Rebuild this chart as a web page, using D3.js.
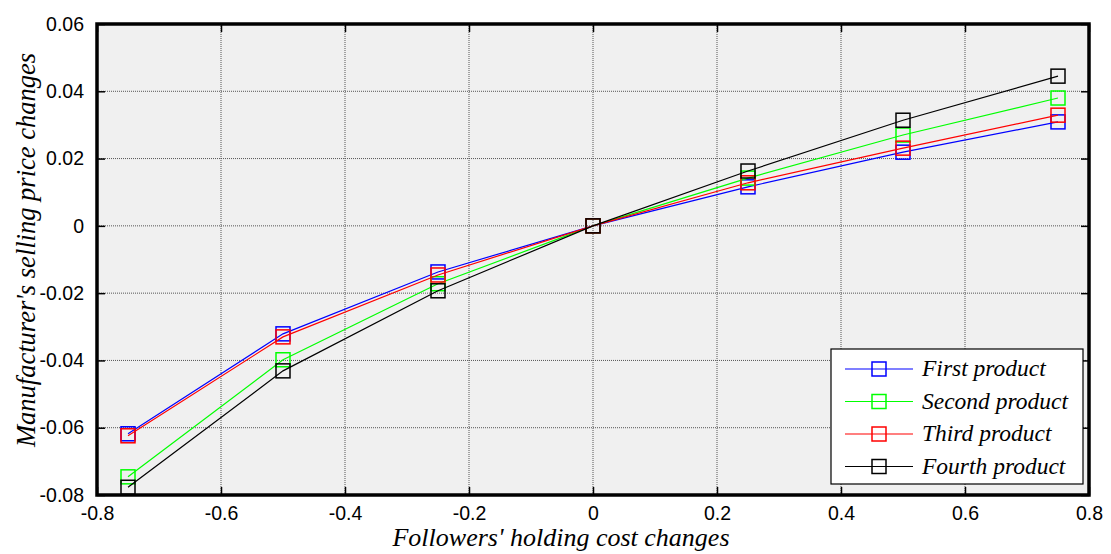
<!DOCTYPE html>
<html>
<head>
<meta charset="utf-8">
<script src="https://cdn.jsdelivr.net/npm/d3@7"></script>
<style>
  body { margin: 0; background: #fff; }
  svg { display: block; }
</style>
</head>
<body>
<svg width="1111" height="554"></svg>
<script>
// data
var xValues = [-0.75, -0.5, -0.25, 0, 0.25, 0.5, 0.75];
var firstProduct  = [-0.0618, -0.0321, -0.0137, 0, 0.0116, 0.0219, 0.0309];
var secondProduct = [-0.0746, -0.0398, -0.0172, 0, 0.0142, 0.0270, 0.0380];
var thirdProduct  = [-0.0624, -0.0330, -0.0146, 0, 0.0128, 0.0231, 0.0329];
var fourthProduct = [-0.0777, -0.0431, -0.0193, 0, 0.0163, 0.0314, 0.0445];
var seriesNames = ["First product", "Second product", "Third product", "Fourth product"];
var seriesColors = ["#0000ff", "#00ff00", "#ff0000", "#000000"];
var xTicks = [-0.8, -0.6, -0.4, -0.2, 0, 0.2, 0.4, 0.6, 0.8];
var yTicks = [-0.08, -0.06, -0.04, -0.02, 0, 0.02, 0.04, 0.06];

var allSeries = [firstProduct, secondProduct, thirdProduct, fourthProduct];

var svg = d3.select("svg");
var plotL = 97, plotR = 1089, plotT = 24, plotB = 495;

var x = d3.scaleLinear().domain([-0.8, 0.8]).range([plotL, plotR]);
var y = d3.scaleLinear().domain([-0.08, 0.06]).range([plotB, plotT]);

// plot background
svg.append("rect")
  .attr("x", plotL).attr("y", plotT)
  .attr("width", plotR - plotL).attr("height", plotB - plotT)
  .attr("fill", "#f0f0f0");

// grid
svg.append("g").selectAll("line").data(xTicks.slice(1, -1)).enter().append("line")
  .attr("x1", function(d) { return x(d); }).attr("x2", function(d) { return x(d); })
  .attr("y1", plotT).attr("y2", plotB)
  .attr("stroke", "#555").attr("stroke-width", 1).attr("stroke-dasharray", "1,1");
svg.append("g").selectAll("line").data(yTicks.slice(1, -1)).enter().append("line")
  .attr("y1", function(d) { return y(d); }).attr("y2", function(d) { return y(d); })
  .attr("x1", plotL).attr("x2", plotR)
  .attr("stroke", "#555").attr("stroke-width", 1).attr("stroke-dasharray", "1,1");

// axes (ticks pointing inward)
var fmtX = function(d) { return d === 0 ? "0" : d3.format(".1f")(d).replace("\u2212", "-"); };
var fmtY = function(d) { return d === 0 ? "0" : d3.format(".2f")(d).replace("\u2212", "-"); };

svg.append("g").attr("transform", "translate(0," + plotB + ")")
  .call(d3.axisBottom(x).tickValues(xTicks).tickFormat(fmtX).tickSizeInner(-8).tickSizeOuter(0).tickPadding(11));
svg.append("g").attr("transform", "translate(" + plotL + ",0)")
  .call(d3.axisLeft(y).tickValues(yTicks).tickFormat(fmtY).tickSizeInner(-8).tickSizeOuter(0).tickPadding(13));
svg.append("g").attr("transform", "translate(0," + plotT + ")")
  .call(d3.axisTop(x).tickValues(xTicks).tickFormat("").tickSizeInner(-8).tickSizeOuter(0));
svg.append("g").attr("transform", "translate(" + plotR + ",0)")
  .call(d3.axisRight(y).tickValues(yTicks).tickFormat("").tickSizeInner(-8).tickSizeOuter(0));

svg.selectAll(".domain").remove();
svg.selectAll(".tick line").attr("stroke", "#000").attr("stroke-width", 1.5);
svg.selectAll(".tick text")
  .attr("font-family", "Liberation Sans, Arial, sans-serif")
  .attr("font-size", 19.5).attr("fill", "#000");

// series
var line = d3.line()
  .x(function(d, i) { return x(xValues[i]); })
  .y(function(d) { return y(d); });

allSeries.forEach(function(vals, k) {
  svg.append("path")
    .datum(vals)
    .attr("d", line)
    .attr("fill", "none")
    .attr("stroke", seriesColors[k])
    .attr("stroke-width", 1.2);
  svg.append("g").selectAll("rect").data(vals).enter().append("rect")
    .attr("x", function(d, i) { return x(xValues[i]) - 7; })
    .attr("y", function(d) { return y(d) - 7; })
    .attr("width", 14).attr("height", 14)
    .attr("fill", "none")
    .attr("stroke", seriesColors[k])
    .attr("stroke-width", 1.5);
});

// frame
svg.append("rect")
  .attr("x", plotL).attr("y", plotT)
  .attr("width", plotR - plotL).attr("height", plotB - plotT)
  .attr("fill", "none").attr("stroke", "#000").attr("stroke-width", 3.5);

// legend
var lg = svg.append("g").attr("transform", "translate(831,349)");
lg.append("rect").attr("width", 252).attr("height", 135)
  .attr("fill", "#fff").attr("stroke", "#000").attr("stroke-width", 1.2);
seriesNames.forEach(function(name, k) {
  var ly = 20 + k * 32.5;
  lg.append("line").attr("x1", 14).attr("x2", 82).attr("y1", ly).attr("y2", ly)
    .attr("stroke", seriesColors[k]).attr("stroke-width", 1.2);
  lg.append("rect").attr("x", 41).attr("y", ly - 7).attr("width", 14).attr("height", 14)
    .attr("fill", "none").attr("stroke", seriesColors[k]).attr("stroke-width", 1.5);
  lg.append("text").attr("x", 91).attr("y", ly + 7)
    .attr("font-family", "Liberation Serif, Times New Roman, serif")
    .attr("font-style", "italic").attr("font-size", 23.5)
    .text(name);
});

// axis titles
svg.append("text")
  .attr("x", 561).attr("y", 546)
  .attr("text-anchor", "middle")
  .attr("font-family", "Liberation Serif, Times New Roman, serif")
  .attr("font-style", "italic").attr("font-size", 26)
  .text("Followers' holding cost changes");

svg.append("text")
  .attr("transform", "translate(35,250) rotate(-90)")
  .attr("text-anchor", "middle")
  .attr("font-family", "Liberation Serif, Times New Roman, serif")
  .attr("font-style", "italic").attr("font-size", 26.5)
  .text("Manufacturer's selling price changes");
</script>
</body>
</html>
